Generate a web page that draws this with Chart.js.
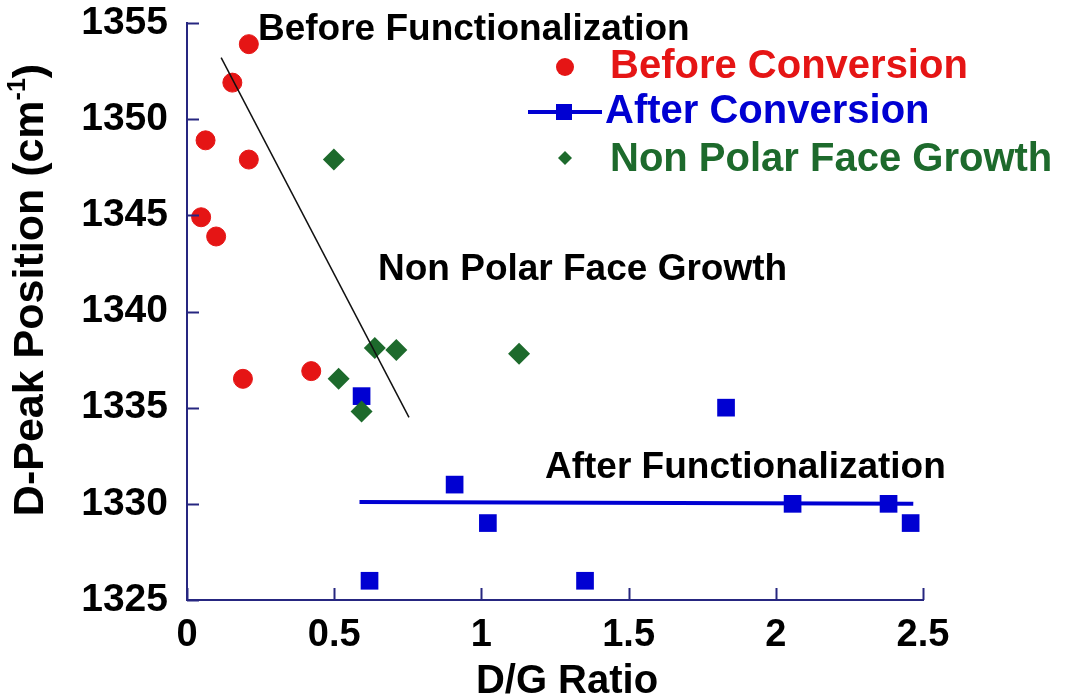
<!DOCTYPE html>
<html>
<head>
<meta charset="utf-8">
<script src="https://cdn.jsdelivr.net/npm/chart.js@4/dist/chart.umd.min.js"></script>
<style>
  html, body { margin: 0; padding: 0; background: #fff; }
</style>
</head>
<body>
<canvas id="myChart" width="1070" height="700"></canvas>
<script>
// valores
var beforeX = [0.21, 0.154, 0.063, 0.21, 0.048, 0.099, 0.19, 0.422];
var beforeY = [1353.9, 1351.9, 1348.9, 1347.9, 1344.9, 1343.9, 1336.5, 1336.9];

var afterX = [0.593, 0.909, 1.022, 0.62, 1.352, 1.831, 2.057, 2.383, 2.458];
var afterY = [1335.6, 1331.0, 1329.0, 1326.0, 1326.0, 1335.0, 1330.0, 1330.0, 1329.0];

var nonPolarX = [0.499, 0.638, 0.711, 1.128, 0.515, 0.593];
var nonPolarY = [1347.9, 1338.1, 1338.0, 1337.8, 1336.5, 1334.8];

// linhas de tendência
var beforeFitX = [0.116, 0.754];
var beforeFitY = [1353.2, 1334.5];
var afterFitX = [0.586, 2.467];
var afterFitY = [1330.1, 1330.0];

var xTicks = [0, 0.5, 1, 1.5, 2, 2.5];
var yTicks = [1325, 1330, 1335, 1340, 1345, 1350, 1355];

var RED = '#e51515';
var BLUE = '#0000d2';
var GREEN = '#1d6a2c';
var AXIS = '#262680';
var FONT = "'Liberation Sans', Arial, sans-serif";

function toPoints(xs, ys) {
  var pts = [];
  for (var i = 0; i < xs.length; i++) {
    pts.push({ x: xs[i], y: ys[i] });
  }
  return pts;
}

// marcas de escala para dentro + textos + legenda
var extrasPlugin = {
  id: 'extras',
  afterDraw: function(chart) {
    var ctx = chart.ctx;
    var xs = chart.scales.x, ys = chart.scales.y;
    var area = chart.chartArea;
    ctx.save();
    ctx.strokeStyle = AXIS;
    ctx.lineWidth = 2;
    yTicks.forEach(function(v) {
      var py = Math.round(ys.getPixelForValue(v)) + 0.5;
      ctx.beginPath();
      ctx.moveTo(area.left, py);
      ctx.lineTo(area.left + 12, py);
      ctx.stroke();
    });
    xTicks.forEach(function(v) {
      var px = Math.round(xs.getPixelForValue(v)) + 0.5;
      ctx.beginPath();
      ctx.moveTo(px, area.bottom);
      ctx.lineTo(px, area.bottom - 12);
      ctx.stroke();
    });

    // anotações
    ctx.fillStyle = '#000';
    ctx.textBaseline = 'middle';
    ctx.textAlign = 'left';
    ctx.font = 'bold 37px ' + FONT;
    ctx.fillText('Before Functionalization', 258, 30);
    ctx.fillText('Non Polar Face Growth', 378, 270);
    ctx.fillText('After Functionalization', 545, 468);

    // título do eixo x
    ctx.textAlign = 'center';
    ctx.font = 'bold 40px ' + FONT;
    ctx.fillText('D/G Ratio', 567, 682);

    // título do eixo y com expoente
    ctx.save();
    ctx.translate(31, 290);
    ctx.rotate(-Math.PI / 2);
    var t1 = 'D-Peak Position (cm', t2 = '-1', t3 = ')';
    ctx.font = 'bold 43px ' + FONT;
    var w1 = ctx.measureText(t1).width, w3 = ctx.measureText(t3).width;
    ctx.font = 'bold 25px ' + FONT;
    var w2 = ctx.measureText(t2).width;
    var start = -(w1 + w2 + w3) / 2;
    ctx.textAlign = 'left';
    ctx.font = 'bold 43px ' + FONT;
    ctx.fillText(t1, start, 0);
    ctx.font = 'bold 25px ' + FONT;
    ctx.fillText(t2, start + w1, -13);
    ctx.font = 'bold 43px ' + FONT;
    ctx.fillText(t3, start + w1 + w2, 0);
    ctx.restore();

    // legenda
    var ds = chart.data.datasets;
    ctx.font = 'bold 40px ' + FONT;
    ctx.textAlign = 'left';
    ctx.textBaseline = 'middle';
    // Before Conversion
    ctx.fillStyle = ds[0].backgroundColor;
    ctx.beginPath();
    ctx.arc(565, 67, 9, 0, Math.PI * 2);
    ctx.fill();
    ctx.fillText(ds[0].label, 610, 67);
    // After Conversion
    ctx.strokeStyle = ds[1].backgroundColor;
    ctx.lineWidth = 4;
    ctx.beginPath();
    ctx.moveTo(528, 112);
    ctx.lineTo(602, 112);
    ctx.stroke();
    ctx.fillStyle = ds[1].backgroundColor;
    ctx.fillRect(556, 104, 16, 16);
    ctx.fillText(ds[1].label, 605, 112);
    // Non Polar Face Growth
    ctx.fillStyle = ds[2].backgroundColor;
    ctx.beginPath();
    ctx.moveTo(565, 151);
    ctx.lineTo(572, 158);
    ctx.lineTo(565, 165);
    ctx.lineTo(558, 158);
    ctx.closePath();
    ctx.fill();
    ctx.fillText(ds[2].label, 610, 160);
    ctx.restore();
  }
};

var ctx = document.getElementById('myChart').getContext('2d');
var chart = new Chart(ctx, {
  type: 'scatter',
  data: {
    datasets: [
      {
        label: 'Before Conversion',
        data: toPoints(beforeX, beforeY),
        backgroundColor: RED,
        borderColor: RED,
        pointStyle: 'circle',
        pointRadius: 9.5,
        order: 1
      },
      {
        label: 'After Conversion',
        data: toPoints(afterX, afterY),
        backgroundColor: BLUE,
        borderColor: BLUE,
        pointStyle: 'rect',
        pointRadius: 12.5,
        pointBorderWidth: 0,
        order: 3
      },
      {
        label: 'Non Polar Face Growth',
        data: toPoints(nonPolarX, nonPolarY),
        backgroundColor: GREEN,
        borderColor: GREEN,
        pointStyle: 'rectRot',
        pointRadius: 11,
        pointBorderWidth: 0,
        order: 2
      },
      {
        type: 'line',
        label: 'fit before',
        data: toPoints(beforeFitX, beforeFitY),
        borderColor: '#111',
        borderWidth: 1.5,
        pointRadius: 0,
        fill: false,
        order: 0
      },
      {
        type: 'line',
        label: 'fit after',
        data: toPoints(afterFitX, afterFitY),
        borderColor: BLUE,
        borderWidth: 4,
        pointRadius: 0,
        fill: false,
        order: 4
      }
    ]
  },
  options: {
    responsive: false,
    animation: false,
    layout: { padding: { top: 23, right: 147, left: 0, bottom: 0 } },
    plugins: {
      legend: { display: false },
      tooltip: { enabled: false }
    },
    scales: {
      x: {
        type: 'linear',
        position: 'bottom',
        min: 0,
        max: 2.5,
        afterFit: function(scale) {
          scale.height = 100;
          scale.paddingLeft = 0;
          scale.paddingRight = 0;
        },
        grid: { display: false },
        border: { display: true, color: AXIS, width: 2 },
        ticks: {
          stepSize: 0.5,
          padding: 5,
          color: '#000',
          font: { family: FONT, size: 38, weight: 'bold' },
          callback: function(v) { return String(v); }
        }
      },
      y: {
        min: 1325,
        max: 1355,
        afterFit: function(scale) {
          scale.width = 187;
          scale.paddingTop = 0;
          scale.paddingBottom = 0;
        },
        grid: { display: false },
        border: { display: true, color: AXIS, width: 2 },
        ticks: {
          stepSize: 5,
          padding: 11,
          color: '#000',
          font: { family: FONT, size: 39, weight: 'bold' },
          callback: function(v) { return String(v); }
        }
      }
    }
  },
  plugins: [extrasPlugin]
});
</script>
</body>
</html>
